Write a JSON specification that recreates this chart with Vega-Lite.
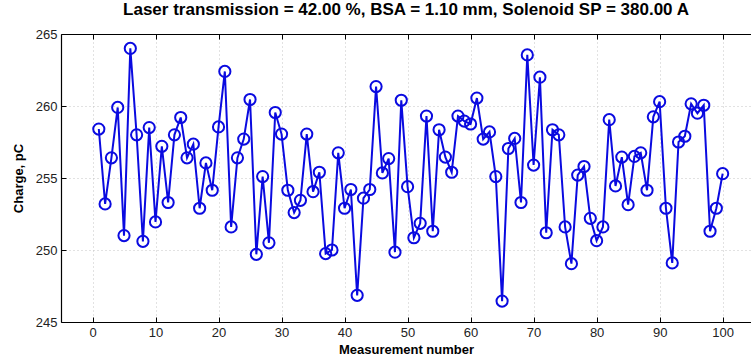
{
  "$schema": "https://vega.github.io/schema/vega-lite/v6.json",
  "autosize": {"type": "none"},
  "padding": {"left": 61, "top": 34, "right": 0, "bottom": 41},
  "width": 690,
  "height": 288,
  "background": "white",
  "title": {
    "text": "Laser transmission = 42.00 %, BSA = 1.10 mm, Solenoid SP = 380.00 A",
    "font": "Liberation Sans",
    "fontSize": 17,
    "fontWeight": "bold",
    "color": "black",
    "anchor": "middle",
    "offset": 9
  },
  "config": {
    "view": {"stroke": null},
    "axis": {
      "labelFont": "Liberation Sans",
      "labelFontSize": 13,
      "labelColor": "#222",
      "titleFont": "Liberation Sans",
      "titleFontSize": 13,
      "titleFontWeight": "bold",
      "titleColor": "black",
      "domainColor": "black",
      "domainWidth": 1.2,
      "tickColor": "black",
      "gridColor": "#c4c4c4",
      "gridDash": [1, 3],
      "gridWidth": 1
    }
  },
  "data": {
    "values": [
      {"n": 1, "q": 258.4}, {"n": 2, "q": 253.2}, {"n": 3, "q": 256.4}, {"n": 4, "q": 259.9}, {"n": 5, "q": 251.0},
      {"n": 6, "q": 264.0}, {"n": 7, "q": 258.0}, {"n": 8, "q": 250.6}, {"n": 9, "q": 258.5}, {"n": 10, "q": 251.95},
      {"n": 11, "q": 257.2}, {"n": 12, "q": 253.3}, {"n": 13, "q": 258.0}, {"n": 14, "q": 259.2}, {"n": 15, "q": 256.4},
      {"n": 16, "q": 257.35}, {"n": 17, "q": 252.9}, {"n": 18, "q": 256.05}, {"n": 19, "q": 254.15}, {"n": 20, "q": 258.55},
      {"n": 21, "q": 262.4}, {"n": 22, "q": 251.6}, {"n": 23, "q": 256.4}, {"n": 24, "q": 257.7}, {"n": 25, "q": 260.45},
      {"n": 26, "q": 249.7}, {"n": 27, "q": 255.1}, {"n": 28, "q": 250.5}, {"n": 29, "q": 259.55}, {"n": 30, "q": 258.05},
      {"n": 31, "q": 254.15}, {"n": 32, "q": 252.6}, {"n": 33, "q": 253.45}, {"n": 34, "q": 258.05}, {"n": 35, "q": 254.05},
      {"n": 36, "q": 255.4}, {"n": 37, "q": 249.75}, {"n": 38, "q": 250.0}, {"n": 39, "q": 256.75}, {"n": 40, "q": 252.9},
      {"n": 41, "q": 254.2}, {"n": 42, "q": 246.85}, {"n": 43, "q": 253.6}, {"n": 44, "q": 254.2}, {"n": 45, "q": 261.35},
      {"n": 46, "q": 255.35}, {"n": 47, "q": 256.35}, {"n": 48, "q": 249.85}, {"n": 49, "q": 260.4}, {"n": 50, "q": 254.4},
      {"n": 51, "q": 250.85}, {"n": 52, "q": 251.85}, {"n": 53, "q": 259.3}, {"n": 54, "q": 251.3}, {"n": 55, "q": 258.35},
      {"n": 56, "q": 256.45}, {"n": 57, "q": 255.4}, {"n": 58, "q": 259.3}, {"n": 59, "q": 258.95}, {"n": 60, "q": 258.75},
      {"n": 61, "q": 260.55}, {"n": 62, "q": 257.7}, {"n": 63, "q": 258.2}, {"n": 64, "q": 255.1}, {"n": 65, "q": 246.45},
      {"n": 66, "q": 257.05}, {"n": 67, "q": 257.75}, {"n": 68, "q": 253.3}, {"n": 69, "q": 263.55}, {"n": 70, "q": 255.9},
      {"n": 71, "q": 262.0}, {"n": 72, "q": 251.2}, {"n": 73, "q": 258.35}, {"n": 74, "q": 258.0}, {"n": 75, "q": 251.6},
      {"n": 76, "q": 249.05}, {"n": 77, "q": 255.2}, {"n": 78, "q": 255.8}, {"n": 79, "q": 252.2}, {"n": 80, "q": 250.65},
      {"n": 81, "q": 251.6}, {"n": 82, "q": 259.05}, {"n": 83, "q": 254.45}, {"n": 84, "q": 256.45}, {"n": 85, "q": 253.15},
      {"n": 86, "q": 256.5}, {"n": 87, "q": 256.75}, {"n": 88, "q": 254.15}, {"n": 89, "q": 259.25}, {"n": 90, "q": 260.3},
      {"n": 91, "q": 252.9}, {"n": 92, "q": 249.1}, {"n": 93, "q": 257.5}, {"n": 94, "q": 257.9}, {"n": 95, "q": 260.15},
      {"n": 96, "q": 259.5}, {"n": 97, "q": 260.05}, {"n": 98, "q": 251.3}, {"n": 99, "q": 252.9}, {"n": 100, "q": 255.3}
    ]
  },
  "layer": [
    {
      "mark": {"type": "line", "color": "#0a0ae0", "strokeWidth": 2},
      "encoding": {
        "x": {
          "field": "n", "type": "quantitative",
          "scale": {"domain": [-5, 104.5], "nice": false, "zero": false},
          "axis": {
            "orient": "bottom", "title": "Measurement number", "values": [0,10,20,30,40,50,60,70,80,90,100],
            "tickSize": -5, "labelPadding": 9, "titlePadding": 4, "grid": true, "labelFlush": false
          }
        },
        "y": {
          "field": "q", "type": "quantitative",
          "scale": {"domain": [245, 265], "nice": false, "zero": false},
          "axis": {
            "title": "Charge, pC", "values": [245,250,255,260,265],
            "tickSize": -5, "labelPadding": 9, "titlePadding": 10, "grid": true
          }
        }
      }
    },
    {
      "mark": {"type": "point", "shape": "circle", "filled": false, "color": "#0a0ae0", "strokeWidth": 2, "size": 125, "opacity": 1},
      "encoding": {
        "x": {
          "field": "n", "type": "quantitative",
          "scale": {"domain": [-5, 104.5], "nice": false, "zero": false},
          "axis": {
            "orient": "top", "title": null, "labels": false, "values": [0,10,20,30,40,50,60,70,80,90,100],
            "tickSize": -5, "grid": false
          }
        },
        "y": {"field": "q", "type": "quantitative"}
      }
    }
  ],
  "resolve": {"axis": {"x": "independent"}}
}
